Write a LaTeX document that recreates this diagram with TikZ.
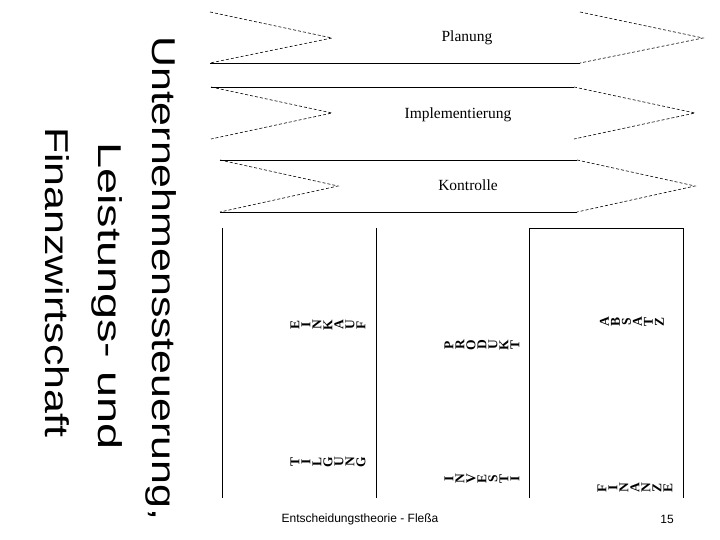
\documentclass[tikz,border=0pt]{standalone}
\usepackage{fontspec}
\setmainfont{Liberation Serif}
\newfontfamily\arialf{Liberation Sans}
% #1 name, #2 x of first letter centre, #3 y, #4 letters
\newcommand\rotword[4]{%
  \foreach \ch [count=\i] in {#4}{%
    \node[rotletter] (#1\i) at ({#2+11*(\i-1)},#3) {\ch};
  }%
}
\begin{document}
\begin{tikzpicture}[x=1pt,y=-1pt,
  dashline/.style={line width=0.6pt, dash pattern=on 3pt off 2pt},
  solidline/.style={line width=0.8pt},
  bandtext/.style={font=\fontsize{15.5}{18}\selectfont, inner sep=0},
  rotletter/.style={font=\bfseries\fontsize{13.5}{15}\selectfont, inner sep=0, rotate=90},
  titleline/.style={font=\arialf\fontsize{33}{40}\selectfont, rotate=-90, anchor=base west, inner sep=0},
  foot/.style={font=\arialf\fontsize{12}{14}\selectfont, inner sep=0},
]
\path[fill=white] (0,0) rectangle (720,540);

% title
\node[titleline] (t1) at (152,36) {\scalebox{1.3}[1]{Unternehmenssteuerung,}};
\node[titleline] (t2) at (98,142) {\scalebox{1.42}[1]{Leistungs- und}};
\node[titleline] (t3) at (45,127) {\scalebox{1.3}[1]{Finanzwirtschaft}};

% band 1
\coordinate (a1) at (210,12); \coordinate (b1) at (332,38); \coordinate (c1) at (210,63);
\coordinate (d1) at (580,63); \coordinate (e1) at (580,12); \coordinate (f1) at (703,38);
\draw[dashline] (a1) -- (b1) -- (c1);
\draw[solidline] (c1) -- (d1);
\draw[dashline] (e1) -- (f1) -- (d1);
\node[bandtext] (planung) at (467,38) {Planung};

% band 2
\coordinate (a2) at (211,87); \coordinate (b2) at (332,113); \coordinate (c2) at (211,139);
\coordinate (d2) at (574,139); \coordinate (e2) at (574,87); \coordinate (f2) at (695,113);
\draw[dashline] (a2) -- (b2) -- (c2);
\draw[solidline] (a2) -- (e2);
\draw[dashline] (e2) -- (f2) -- (d2);
\node[bandtext] (impl) at (458,115) {Implementierung};

% band 3
\coordinate (a3) at (220,160); \coordinate (b3) at (338,186); \coordinate (c3) at (220,212);
\coordinate (d3) at (577,212); \coordinate (e3) at (577,160); \coordinate (f3) at (695,186);
\draw[dashline] (a3) -- (b3) -- (c3);
\draw[solidline] (a3) -- (e3);
\draw[solidline] (c3) -- (d3);
\draw[dashline] (e3) -- (f3) -- (d3);
\node[bandtext] (kontrolle) at (468,185) {Kontrolle};

% columns
\coordinate (l1t) at (222,228); \coordinate (l1b) at (222,498);
\coordinate (l2t) at (376,228); \coordinate (l2b) at (376,498);
\coordinate (r1b) at (529,498); \coordinate (r1t) at (529,228);
\coordinate (r2t) at (683,228); \coordinate (r2b) at (683,498);
\draw[solidline] (l1t) -- (l1b);
\draw[solidline] (l2t) -- (l2b);
\draw[solidline] (r1b) -- (r1t) -- (r2t) -- (r2b);

% rotated labels
\rotword{einkauf}{295}{325}{E,I,N,K,A,U,F}
\rotword{tilgung}{295}{462}{T,I,L,G,U,N,G}
\rotword{produkt}{449}{345}{P,R,O,D,U,K,T}
\rotword{investi}{449}{479}{I,N,V,E,S,T,I}
\rotword{absatz}{604.5}{322}{A,B,S,A,T,Z}
\rotword{finanze}{602}{488}{F,I,N,A,N,Z,E}

% footer
\node[foot] (footer) at (360,519) {Entscheidungstheorie - Fleßa};
\node[foot] (page) at (667,519) {15};
\end{tikzpicture}
\end{document}
